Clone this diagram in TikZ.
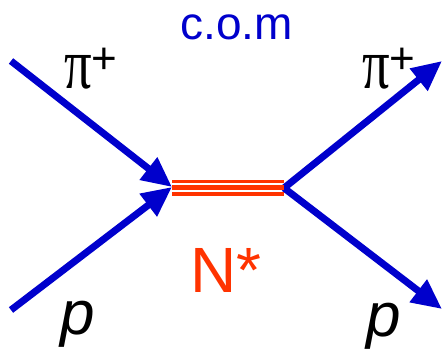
\documentclass[tikz,border=0pt]{standalone}
\usepackage{fontspec}
\setmainfont{Liberation Sans}
\newfontfamily\pifont{Liberation Serif}
\usetikzlibrary{arrows.meta}
\definecolor{lineblue}{RGB}{0,0,204}
\definecolor{nred}{RGB}{255,51,0}
\newcommand{\pisym}{\scalebox{0.76}[1]{\pifont π}}
\begin{document}
\begin{tikzpicture}[x=1pt,y=1pt,
  prop/.style={line width=7pt, draw=lineblue, -{Triangle[length=30pt,width=27pt]}},
  resline/.style={line width=3.8pt, draw=nred},
  lbl/.style={inner sep=0pt, outer sep=0pt},
  pilabel/.style={lbl, anchor=base west, font=\fontsize{72}{72}\selectfont},
  plabel/.style={lbl, anchor=base west, font=\fontsize{62}{62}\selectfont\itshape}]
\useasboundingbox (0,0) rectangle (443,357);
\coordinate (a) at (11,296);
\coordinate (b) at (11,47);
\coordinate (v1) at (172,170);
\coordinate (v2) at (284,169);
\coordinate (c) at (442,296);
\coordinate (d) at (442,48);
\draw[prop] (a) -- (v1);
\draw[prop] (b) -- (v1);
\draw[prop] (v2) -- (c);
\draw[prop] (v2) -- (d);
\coordinate (r1a) at (172,175.5); \coordinate (r1b) at (284,175.5);
\coordinate (r2a) at (172,169.5); \coordinate (r2b) at (284,169.5);
\coordinate (r3a) at (172,163); \coordinate (r3b) at (284,163);
\draw[resline] (r1a) -- (r1b);
\draw[resline, line width=5pt] (r2a) -- (r2b);
\draw[resline] (r3a) -- (r3b);
\node[lbl, anchor=base, text=lineblue, font=\fontsize{46}{46}\selectfont] (com) at (236.5,318) {c.o.m};
\node[pilabel] (pil) at (64,269) {\pisym\raisebox{15pt}{\fontsize{44}{44}\selectfont +}};
\node[pilabel] (pir) at (362,269) {\pisym\raisebox{15pt}{\fontsize{44}{44}\selectfont +}};
\node[lbl, anchor=base west, text=nred, font=\fontsize{64}{64}\selectfont] (nstar) at (190,65) {N*};
\node[plabel] (pl) at (60,23) {p};
\node[plabel] (pr) at (366,21) {p};
\end{tikzpicture}
\end{document}
